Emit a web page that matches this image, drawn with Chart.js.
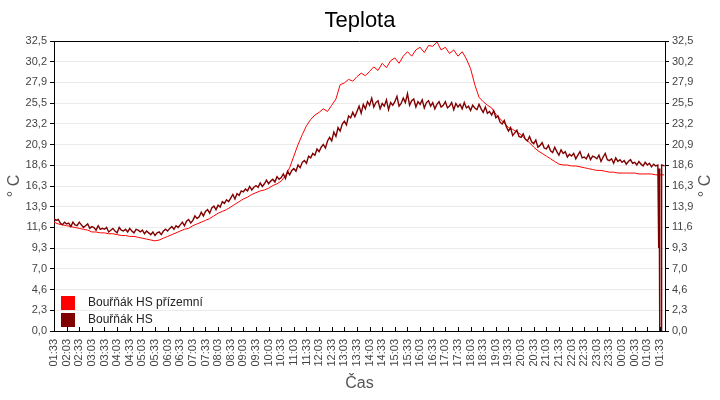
<!DOCTYPE html>
<html>
<head>
<meta charset="utf-8">
<script src="https://cdn.jsdelivr.net/npm/chart.js@4.4.0/dist/chart.umd.min.js"></script>
<style>
  html, body { margin: 0; padding: 0; background: #fff; }
  #wrap { width: 720px; height: 400px; }
</style>
</head>
<body>
<div id="wrap"><canvas id="teplota" width="720" height="400"></canvas></div>
<script>
// popisky osy x (kazdych 30 minut od 01:33)
var tickLabels = ['01:33','02:03','02:33','03:03','03:33','04:03','04:33','05:03','05:33','06:03','06:33',
    '07:03','07:33','08:03','08:33','09:03','09:33','10:03','10:33','11:03','11:33','12:03','12:33',
    '13:03','13:33','14:03','14:33','15:03','15:33','16:03','16:33','17:03','17:33','18:03','18:33',
    '19:03','19:33','20:03','20:33','21:03','21:33','22:03','22:33','23:03','23:33','00:03','00:33',
    '01:03','01:33'];

var yTickLabels = ['0,0','2,3','4,6','7,0','9,3','11,6','13,9','16,3','18,6','20,9','23,2','25,5','27,9','30,2','32,5'];

var seriesNames = ['Bouřňák HS přízemní', 'Bouřňák HS'];
var seriesColors = ['#ff0000', '#800000'];

// Bouřňák HS přízemní - kazdych 10 minut
var redValues = [
    12.2, 12.0, 11.9,  11.8, 11.7, 11.6,  11.5, 11.4, 11.3,  11.1, 11.1, 11.0,
    11.0, 10.9, 10.9,  10.8, 10.7, 10.7,  10.6, 10.6, 10.5,  10.4, 10.3, 10.2,
    10.1, 10.2, 10.4,  10.6, 10.8, 11.0,  11.2, 11.4, 11.5,  11.8, 12.0, 12.2,
    12.4, 12.6, 12.9,  13.2, 13.4, 13.6,  13.9, 14.2, 14.5,  14.8, 15.0, 15.3,
    15.5, 15.7, 15.8,  16.0, 16.3, 16.5,  16.8, 17.4, 18.3,  19.6, 20.9, 22.0,
    23.0, 23.7, 24.2,  24.5, 24.9, 24.6,  25.3, 26.0, 27.6,  27.8, 28.2, 28.0,
    28.5, 28.9, 28.6,  29.1, 29.6, 29.2,  30.0, 29.5, 30.3,  30.6, 30.0, 30.8,
    31.3, 30.8, 31.5,  31.8, 31.2, 32.0,  31.9, 32.4, 31.5,  31.8, 31.1, 31.5,
    30.8, 31.3, 30.5,  29.4, 27.6, 26.2,  25.7, 25.3, 25.0,  24.3, 23.8, 23.3,
    22.8, 22.6, 22.3,  22.0, 21.5, 21.1,  20.6, 20.2, 19.9,  19.6, 19.3, 19.0,
    18.7, 18.6, 18.6,  18.5, 18.5, 18.4,  18.3, 18.2, 18.1,  18.0, 18.0, 17.9,
    17.8, 17.8, 17.7,  17.7, 17.7, 17.7,  17.7, 17.6, 17.6,  17.6, 17.6, 17.5,
    17.5, 17.5
];

// Bouřňák HS - kazdych 5 minut
var darkValues = [
    12.6, 12.4, 12.5, 12.1, 11.9, 12.2,   12.0, 12.1, 11.7, 12.2, 11.9, 11.8,
    12.2, 11.9, 11.6, 11.8, 12.0, 11.5,   11.7, 11.6, 11.3, 11.8, 11.4, 11.5,
    11.4, 11.6, 11.1, 11.3, 11.5, 11.2,   11.0, 11.6, 11.3, 11.2, 11.4, 11.1,
    11.5, 11.2, 11.0, 11.4, 11.3, 11.1,   11.3, 10.9, 11.2, 11.0, 10.8, 11.1,
    10.7, 11.0, 11.1, 10.8, 11.2, 11.4,   11.2, 11.5, 11.7, 11.4, 11.8, 11.6,
    11.9, 12.2, 11.8, 12.3, 12.5, 12.1,   12.4, 12.9, 12.6, 12.8, 13.3, 12.9,
    13.4, 13.6, 13.2, 13.8, 14.0, 13.6,   14.1, 13.9, 14.5, 14.3, 14.7, 14.5,
    14.9, 15.3, 14.8, 15.4, 15.2, 15.7,   15.6, 15.9, 15.7, 16.2, 15.8, 16.1,
    16.3, 16.1, 16.6, 16.2, 16.5, 16.9,   16.5, 16.8, 17.0, 16.7, 17.3, 17.0,
    17.2, 17.6, 17.1, 17.9, 17.5, 18.0,   18.2, 17.9, 18.6, 18.3, 18.9, 19.1,
    18.8, 19.6, 19.4, 19.9, 19.7, 20.4,   20.1, 20.6, 20.9, 20.5, 21.3, 21.7,
    21.3, 22.3, 21.8, 22.8, 22.4, 23.2,   23.5, 23.1, 24.1, 23.9, 24.5, 24.0,
    24.6, 25.2, 24.4, 25.4, 24.9, 25.7,   25.3, 26.1, 25.1, 25.6, 25.8, 24.9,
    25.5, 25.2, 25.9, 24.8, 25.6, 25.3,   25.7, 26.3, 25.2, 25.5, 26.1, 25.6,
    26.6, 25.3, 25.8, 26.0, 25.1, 25.7,   25.4, 25.9, 25.0, 25.6, 25.8, 25.2,
    25.6, 24.9, 25.4, 25.7, 25.1, 25.3,   25.7, 25.0, 25.2, 25.6, 24.8, 25.5,
    25.1, 25.4, 24.9, 25.6, 25.0, 25.2,   24.7, 25.3, 25.0, 24.8, 25.4, 24.9,
    24.5, 25.1, 24.4, 24.6, 24.2, 24.7,   23.9, 24.1, 23.4, 23.2, 23.6, 22.9,
    22.4, 22.8, 21.9, 22.2, 22.5, 21.8,   21.7, 22.1, 21.5, 21.3, 21.8, 21.2,
    21.0, 21.4, 20.6, 20.8, 21.1, 20.5,   20.4, 20.8, 20.2, 20.0, 20.6, 20.1,
    19.7, 20.3, 19.9, 20.1, 19.5, 19.8,   19.6, 19.9, 19.3, 19.7, 20.1, 19.4,
    19.5, 19.3, 19.8, 19.2, 19.6, 19.5,   19.3, 19.7, 19.0, 19.5, 19.9, 19.2,
    19.1, 19.3, 18.8, 19.4, 19.0, 19.2,   18.9, 19.1, 18.7, 19.0, 19.2, 18.8,
    18.9, 18.6, 19.0, 18.7, 18.5, 18.9,   18.6, 18.8, 18.4, 18.7, 18.5, 18.6
];
// konec mereni (vypadek cidla)
var darkTailTimes  = [1437, 1438, 1439, 1440, 1443, 1444, 1451];
var darkTailValues = [9.3, 18.2, 9.3, 0.0, 0.0, 18.6, 18.5];

var X_MAX = 1452;
var Y_MAX = 32.5;

var redData = redValues.map(function(v, i) { return {x: i * 10, y: v}; });
var darkData = darkValues.map(function(v, i) { return {x: i * 5, y: v}; });
darkTailTimes.forEach(function(t, i) { darkData.push({x: t, y: darkTailValues[i]}); });

var FONT = '"Liberation Sans", Arial, sans-serif';

var decor = {
    id: 'decor',
    afterDraw: function(chart) {
        var ctx = chart.ctx, a = chart.chartArea, sx = chart.scales.x;
        ctx.save();
        ctx.strokeStyle = '#000';
        ctx.lineWidth = 1;
        ctx.beginPath();
        ctx.moveTo(a.left, a.top + 0.5);
        ctx.lineTo(a.right, a.top + 0.5);
        // x ticks dovnitr grafu
        sx.ticks.forEach(function(t) {
            var px = Math.round(sx.getPixelForValue(t.value)) + 0.5;
            ctx.moveTo(px, a.bottom);
            ctx.lineTo(px, a.bottom - 4);
        });
        ctx.stroke();

        // legenda
        ctx.font = '12px ' + FONT;
        ctx.textBaseline = 'middle';
        ctx.textAlign = 'left';
        seriesNames.forEach(function(name, i) {
            var y = a.bottom - 35 + i * 17;
            ctx.fillStyle = seriesColors[i];
            ctx.fillRect(a.left + 7, y, 14, 14);
            ctx.fillStyle = '#222';
            ctx.fillText(name, a.left + 34, y + 7);
        });

        // popisky os
        ctx.fillStyle = '#555';
        ctx.font = '16px ' + FONT;
        ctx.textAlign = 'center';
        ctx.fillText('Čas', (a.left + a.right) / 2, 384);
        var midY = (a.top + a.bottom) / 2;
        [15, 706].forEach(function(x) {
            ctx.save();
            ctx.translate(x, midY);
            ctx.rotate(-Math.PI / 2);
            ctx.fillText('° C', 0, 0);
            ctx.restore();
        });
        ctx.restore();
    }
};

function yTicks(scale) {
    scale.ticks = yTickLabels.map(function(l, i) { return {value: i * Y_MAX / 14}; });
}

var ctx = document.getElementById('teplota').getContext('2d');
var myChart = new Chart(ctx, {
    type: 'line',
    data: {
        datasets: [
            {
                label: seriesNames[0],
                data: redData,
                borderColor: seriesColors[0],
                borderWidth: 1,
                pointRadius: 0,
                order: 1
            },
            {
                label: seriesNames[1],
                data: darkData,
                borderColor: seriesColors[1],
                borderWidth: 1.4,
                pointRadius: 0,
                order: 0
            }
        ]
    },
    options: {
        responsive: false,
        animation: false,
        devicePixelRatio: 1,
        plugins: {
            legend: { display: false },
            tooltip: { enabled: false },
            title: {
                display: true,
                text: 'Teplota',
                color: '#000',
                font: { family: FONT, size: 22, weight: 'normal' },
                padding: { top: 8, bottom: 6.6 }
            }
        },
        scales: {
            x: {
                type: 'linear',
                min: 0,
                max: X_MAX,
                afterBuildTicks: function(scale) {
                    scale.ticks = tickLabels.map(function(l, i) { return {value: i * 30}; });
                },
                afterFit: function(scale) { scale.height = 69; },
                grid: { drawOnChartArea: false, drawTicks: false },
                border: { color: '#000', width: 1 },
                ticks: {
                    autoSkip: false,
                    maxRotation: 90,
                    minRotation: 90,
                    padding: 8,
                    color: '#444',
                    font: { family: FONT, size: 11 },
                    callback: function(v, i) { return tickLabels[i]; }
                }
            },
            y: {
                position: 'left',
                min: 0,
                max: Y_MAX,
                afterBuildTicks: yTicks,
                afterFit: function(scale) { scale.width = 54; },
                grid: { color: '#ebebeb', tickColor: '#000', tickLength: 4 },
                border: { color: '#000', width: 1 },
                ticks: {
                    padding: 3,
                    color: '#444',
                    font: { family: FONT, size: 11 },
                    callback: function(v, i) { return yTickLabels[i]; }
                }
            },
            y2: {
                position: 'right',
                min: 0,
                max: Y_MAX,
                afterBuildTicks: yTicks,
                afterFit: function(scale) { scale.width = 55; },
                grid: { drawOnChartArea: false, tickColor: '#000', tickLength: 4 },
                border: { color: '#000', width: 1 },
                ticks: {
                    padding: 3,
                    color: '#444',
                    font: { family: FONT, size: 11 },
                    callback: function(v, i) { return yTickLabels[i]; }
                }
            }
        }
    },
    plugins: [decor]
});
</script>
</body>
</html>
